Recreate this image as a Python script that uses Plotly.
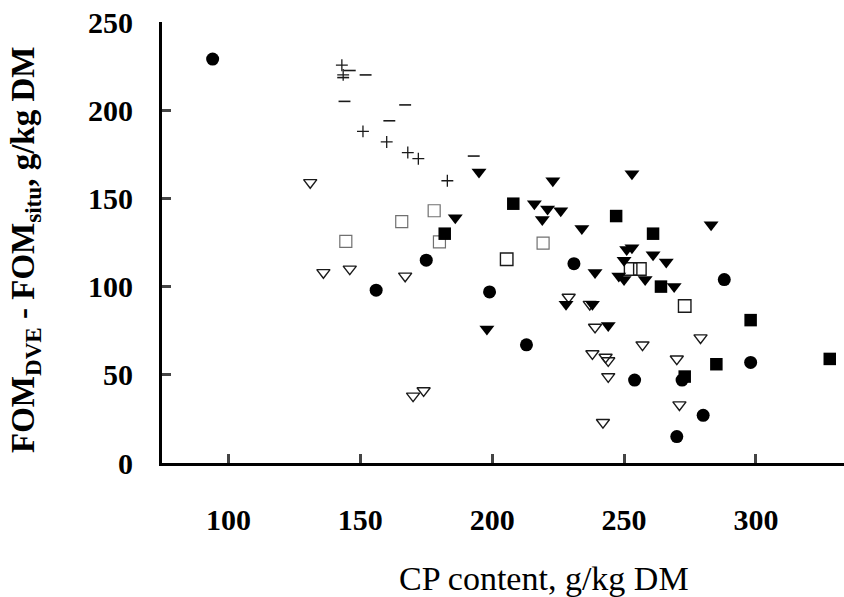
import plotly.graph_objects as go

# --- data: CP content (g/kg DM) vs FOM_DVE - FOM_situ (g/kg DM), per feed group ---
circle_x = [94, 156, 175, 199, 213, 231, 254, 270, 272, 280, 288, 298]
circle_y = [229, 98, 115, 97, 67, 113, 47, 15, 47, 27, 104, 57]

square_x = [182, 208, 247, 261, 264, 273, 285, 298, 328]
square_y = [130, 147, 140, 130, 100, 49, 56, 81, 59]

open_square_x = [205.5, 252.5, 256, 273]
open_square_y = [115.5, 110, 110, 89]

faint_square_x = [144.5, 165.7, 178, 180, 219.3]
faint_square_y = [125.6, 136.8, 143, 125.4, 124.7]

tri_x = [195, 223, 253, 186, 216, 221, 226, 219, 234, 251, 253, 250, 261, 266,
         248, 250, 258, 269, 239, 228, 238, 244, 198, 283]
tri_y = [165, 160, 164, 139, 147, 144, 143, 138, 133, 121, 122, 115, 118, 114,
         106, 104, 104, 100, 108, 90, 90, 78, 76, 135]

open_tri_x = [131, 136, 146, 167, 170, 174, 229, 237, 239, 257, 238, 243, 244,
              244, 242, 279, 270, 271]
open_tri_y = [159, 108, 110, 106, 38, 41, 94, 90, 77, 67, 62, 60, 58, 49, 23,
              71, 59, 33]

plus_x = [143, 143.5, 151, 160, 168, 172, 183]
plus_y = [225.5, 220, 188, 182, 176, 172.5, 160]

dash_x = [146, 143.5, 152, 144, 167, 161, 193]
dash_y = [222.5, 218.5, 220, 205, 203, 194, 174]

x_ticks = [100, 150, 200, 250, 300]
y_ticks = [0, 50, 100, 150, 200, 250]

FONT = "Liberation Serif"

# plot-area geometry in pixels
L, R, T, B = 162, 0, 22, 134
W, H = 844, 597
W_PLOT = W - L - R
H_PLOT = H - T - B

fig = go.Figure()


def add(xs, ys, symbol, size, color="black", line_color="black", line_width=0):
    fig.add_trace(go.Scatter(
        x=xs, y=ys, mode="markers", showlegend=False, hoverinfo="skip",
        marker=dict(symbol=symbol, size=size, color=color,
                    line=dict(color=line_color, width=line_width)),
    ))


add(faint_square_x, faint_square_y, "square-open", 12, color="#707070", line_color="#707070", line_width=1.2)
add(open_tri_x, open_tri_y, "triangle-down-open", 11.5, color="#1a1a1a", line_color="#1a1a1a", line_width=1.4)
add(open_square_x, open_square_y, "square-open", 12.5, color="#1a1a1a", line_color="#1a1a1a", line_width=1.4)
add(plus_x, plus_y, "cross-thin", 8.5, line_color="#1a1a1a", line_width=1.3)
add(dash_x, dash_y, "line-ew", 8.5, line_color="#1a1a1a", line_width=1.6)
add(tri_x, tri_y, "triangle-down", 13)
add(square_x, square_y, "square", 12.5)
add(circle_x, circle_y, "circle", 13)


def px_to_paper(px, py):
    return (px - L) / W_PLOT, (H - B - py) / H_PLOT


tx, ty = px_to_paper(544, 578)
yx, yy = px_to_paper(25, 250)

fig.update_layout(
    width=W, height=H,
    margin=dict(l=L, r=R, t=T, b=B),
    paper_bgcolor="white", plot_bgcolor="white",
    font=dict(family=FONT, color="black"),
    xaxis=dict(
        range=[74.8, 333.4], tickvals=x_ticks, ticks="inside", ticklen=9, tickwidth=3,
        showline=True, linewidth=3, linecolor="black", showgrid=False, zeroline=False,
        tickfont=dict(family=FONT, size=30, color="black", weight="bold"),
        ticklabelstandoff=28,
    ),
    yaxis=dict(
        range=[0, 250], tickvals=y_ticks, ticks="inside", ticklen=9, tickwidth=3,
        showline=True, linewidth=3, linecolor="black", showgrid=False, zeroline=False,
        tickfont=dict(family=FONT, size=30, color="black", weight="bold"),
        ticklabelstandoff=20,
    ),
    annotations=[
        dict(text="CP content, g/kg DM", x=tx, y=ty, xref="paper", yref="paper",
             xanchor="center", yanchor="middle", showarrow=False,
             font=dict(family=FONT, size=34, color="black")),
        dict(text="<b>FOM<sub>DVE</sub> - FOM<sub>situ</sub>, g/kg DM</b>",
             textangle=-90, x=yx, y=yy, xref="paper", yref="paper",
             xanchor="center", yanchor="middle", showarrow=False,
             font=dict(family=FONT, size=33, color="black")),
    ],
)

fig.write_html("out.html")
